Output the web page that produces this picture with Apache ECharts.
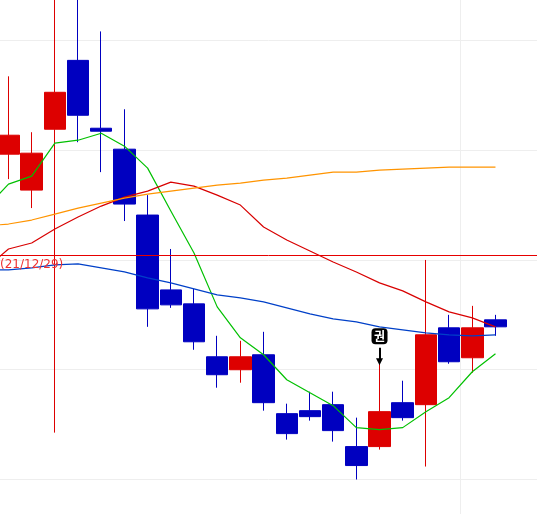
<!DOCTYPE html>
<html><head><meta charset="utf-8">
<style>html,body{margin:0;padding:0;background:#fff}#c{width:537px;height:514px}</style>
<script src="https://cdn.jsdelivr.net/npm/echarts@6/dist/echarts.min.js"></script></head>
<body><div id="c"></div>
<script>
// Values (price units, no axis labels are visible in the reference)
const categories = ['p','c0','c1','c2','c3','c4','c5','c6','c7','c8','c9','c10','c11','c12','c13','c14','c15','c16','c17','c18','c19','c20','c21','n1','n2'];
const opens  = [null,436,400,461,530,462,441,375,300,286,233,220,235,176,179,185,143,143,187,185,262,232,270,null,null];
const closes = [null,455,437,498,475,459,386,281,285,248,215,233,187,156,173,159,124,178,172,255,228,262,263,null,null];
const lows   = [null,411,382,157,448,418,369,263,282,240,202,207,179,150,169,148,110,140,169,123,226,217,254,null,null];
const highs  = [null,514,458,610,600,559,481,395,341,301,254,249,258,186,198,198,172,226,209,330,275,284,275,null,null];
const ma5    = [381,406,414,447,450,457,444,422,379,337,283,252,235,210,197,184,162,160,162,178,192,218,236,null,null];
const ma20   = [321,341,347,361,373,384,393,399,408,404,395,385,363,350,339,328,318,307,299,288,278,272,263,null,null];
const ma60   = [320,320,322,325,326,322,318,312,307,301,295,292,288,282,276,271,268,263,260,257,255,254,255,null,null];
const ma120  = [364,366,370,376,382,387,392,396,399,402,405,407,410,412,415,418,418,420,421,422,423,423,423,null,null];
const priceLine = 334.5;
const priceLabel = '(21/12/29)';
const signalText = '권';
const signalIndex = 17;
const signalBoxValue = 253.5;
const signalArrowFrom = 242;
const signalArrowTo = 228;
const gridIndices = [0, 21];

const candles = categories.map((_, i) => opens[i] === null ? '-' : [opens[i], closes[i], lows[i], highs[i]]);
const line = (data, color) => ({type:'line', data, symbol:'none', showSymbol:false, connectNulls:false,
  lineStyle:{color, width:1.2}, itemStyle:{color}, z:5, silent:true, animation:false});

const chart = echarts.init(document.getElementById('c'), null, {renderer:'canvas'});
chart.setOption({
  animation:false,
  backgroundColor:'#fff',
  grid:{left:-26.3, width:579.75, top:-69.38, height:658.68, containLabel:false, outerBoundsMode:'none'},
  xAxis:{type:'category', data:categories, boundaryGap:true,
    axisLine:{show:false}, axisTick:{show:false}, axisLabel:{show:false},
    splitLine:{show:true, interval:(i)=>gridIndices.includes(i), lineStyle:{color:'#eeeeee', width:1}}},
  yAxis:{type:'value', min:0, max:660, interval:110,
    axisLine:{show:false}, axisTick:{show:false}, axisLabel:{show:false},
    splitLine:{show:true, lineStyle:{color:'#eeeeee', width:1}}},
  series:[
    {type:'candlestick', data:candles, barWidth:22, z:3, silent:true,
     itemStyle:{color:'#dd0000', color0:'#0000c0', borderColor:'#dd0000', borderColor0:'#0000c0', borderWidth:1},
     markLine:{silent:true, symbol:'none', animation:false, z:6, lineStyle:{color:'#e60000', width:1, type:'solid'}, label:{show:false},
       data:[
         [{xAxis:categories[0], yAxis:priceLine},
          {xAxis:categories[24], yAxis:priceLine}],
         [{xAxis:categories[signalIndex], yAxis:signalArrowFrom, symbol:'none', lineStyle:{color:'#000', width:2, type:'solid'}},
          {xAxis:categories[signalIndex], yAxis:signalArrowTo, symbol:'triangle', symbolSize:7}]
       ]},
     markPoint:{silent:true, animation:false, z:7,
       data:[
         {coord:[categories[2], 325], symbol:'rect', symbolSize:0, itemStyle:{color:'transparent'},
          label:{show:true, position:'inside', formatter:priceLabel, color:'#f03030', fontFamily:'DejaVu Sans', fontSize:12}},
         {coord:[categories[signalIndex], signalBoxValue], symbol:'roundRect', symbolSize:16, itemStyle:{color:'#000'},
          label:{show:true, position:'inside', formatter:signalText, color:'#fff', fontFamily:'Noto Sans CJK KR', fontWeight:'bold', fontSize:12}}
       ]}
    },
    line(ma5,'#00c000'), line(ma20,'#d80000'), line(ma60,'#0040c8'), line(ma120,'#ff9400')
  ]
});
</script></body></html>
